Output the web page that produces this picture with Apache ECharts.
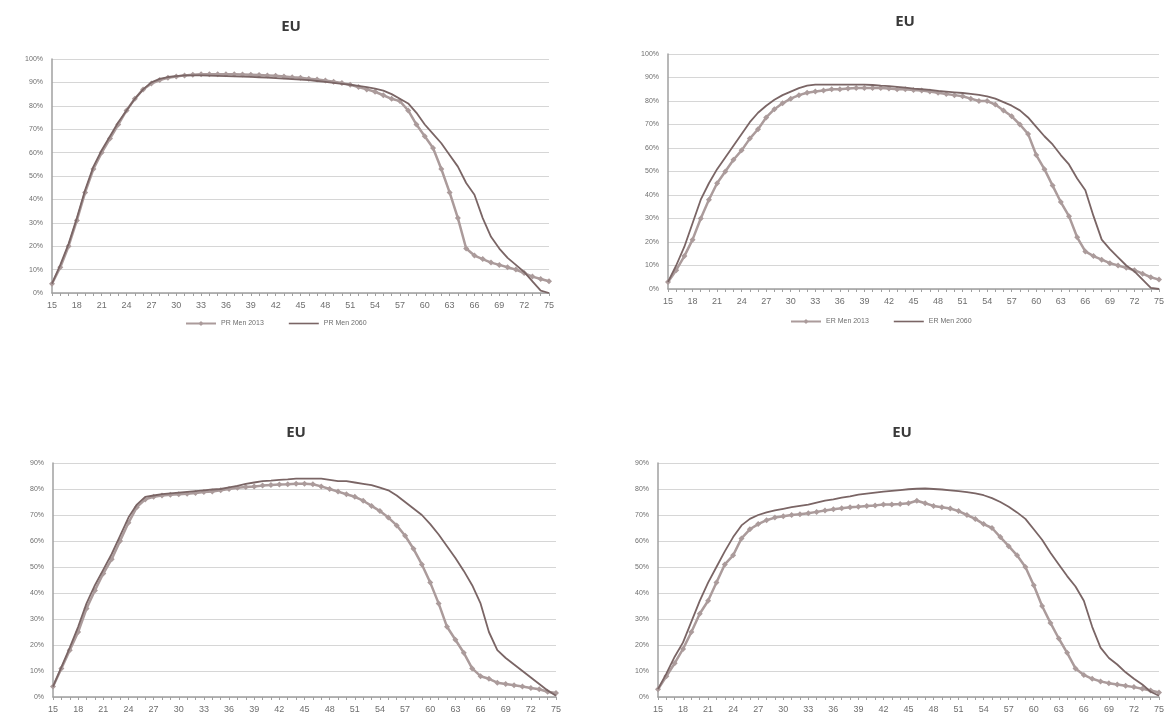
<!DOCTYPE html>
<html>
<head>
<meta charset="utf-8">
<script src="https://cdn.jsdelivr.net/npm/echarts@6/dist/echarts.min.js"></script>
<style>
  html, body { margin: 0; padding: 0; background: #fff; }
  #chart { width: 1167px; height: 726px; }
</style>
</head>
<body>
<div id="chart"></div>
<script>
// ages 15..75
const ages = []
for (let a = 15; a <= 75; a++) ages.push(String(a))

// top left - participation rate, men
const prMen2013 = [4, 11, 20, 31, 43, 53, 60, 66, 72, 78, 83, 87, 89.5, 91, 92, 92.5, 93, 93.3, 93.5, 93.5,
  93.5, 93.5, 93.5, 93.4, 93.3, 93.2, 93, 92.8, 92.5, 92.2, 92, 91.6, 91.2, 90.8, 90.3, 89.7, 89, 88, 87, 86,
  84.5, 83, 82, 78, 72, 67, 62, 53, 43, 32, 19, 16, 14.5, 13, 12, 11, 10, 8.5, 7, 6, 5]
const prMen2060 = [4, 12, 21, 32, 44, 54, 61, 67, 73, 78, 83, 87, 90, 91.5, 92.3, 92.7, 93, 93, 93, 92.9,
  92.8, 92.7, 92.6, 92.5, 92.4, 92.2, 92, 91.8, 91.6, 91.4, 91.2, 91, 90.6, 90.2, 89.8, 89.4, 89, 88.5, 88, 87.3,
  86.5, 85, 83, 81, 77, 72, 68, 64, 59, 54, 47, 42, 32, 24, 19, 15, 12, 9, 5, 1, 0]

// top right - employment rate, men
const erMen2013 = [3, 8, 14, 21, 30, 38, 45, 50, 55, 59, 64, 68, 73, 76.5, 79, 81, 82.5, 83.5, 84, 84.5,
  85, 85, 85.3, 85.5, 85.5, 85.5, 85.5, 85.3, 85, 85, 84.7, 84.5, 84, 83.5, 83, 82.5, 82, 81, 80, 80,
  78.5, 76, 73.5, 70, 66, 57, 51, 44, 37, 31, 22, 16, 14, 12.5, 11, 10, 9, 8, 6.5, 5, 4]
const erMen2060 = [3, 10, 18, 28, 38, 45, 51, 56, 61, 66, 71, 75, 78, 80.5, 82.5, 84, 85.5, 86.5, 87, 87,
  87, 87, 87, 87, 87, 86.8, 86.5, 86.3, 86, 85.7, 85.3, 85, 84.7, 84.3, 84, 83.7, 83.4, 83, 82.6, 82,
  81, 79.5, 78, 76, 73, 69, 65, 61.5, 57, 53, 47, 42, 31, 21, 17, 13.5, 10, 7.5, 4, 0.5, 0]

// bottom left - participation rate, women
const prWomen2013 = [4, 11, 18, 25, 34, 41, 47.5, 53, 60, 67, 73, 76, 77, 77.5, 77.8, 78, 78.2, 78.5, 78.8, 79,
  79.5, 80, 80.5, 80.8, 81, 81.3, 81.5, 81.7, 81.8, 82, 82, 81.8, 81, 80, 79, 78, 77, 75.5, 73.5, 71.5,
  69, 66, 62, 57, 51, 44, 36, 27, 22, 17, 11, 8, 7, 5.5, 5, 4.5, 4, 3.5, 3, 2, 1.5]
const prWomen2060 = [4, 11.5, 19, 27, 36, 43, 49, 55, 62, 69, 74, 77, 77.5, 78, 78.3, 78.6, 78.9, 79.2, 79.5, 79.8,
  80, 80.6, 81.2, 82, 82.5, 83, 83.2, 83.5, 83.7, 84, 84, 84, 84, 83.5, 83, 83, 82.5, 82, 81.5, 80.5,
  79.5, 77.5, 75, 72.5, 70, 66.5, 62.5, 58, 53.5, 48.5, 43, 36, 25, 18, 15, 12.5, 10, 7.5, 5, 2.5, 0.5]

// bottom right - employment rate, women
const erWomen2013 = [3, 8, 13, 18.5, 25, 32, 37, 44, 51, 54.5, 61, 64.5, 66.5, 68, 69, 69.5, 70, 70.3, 70.7, 71.2,
  71.7, 72.2, 72.6, 73, 73.2, 73.5, 73.7, 74, 74, 74.2, 74.5, 75.5, 74.5, 73.5, 73, 72.5, 71.5, 70, 68.5, 66.5,
  65, 61.5, 58, 54.5, 50, 43, 35, 28.5, 22.5, 17, 11, 8.5, 7, 6, 5.3, 4.8, 4.3, 3.8, 3.2, 2.5, 1.7]
const erWomen2060 = [3, 9, 15.5, 21, 29, 37, 44, 50, 56, 61.5, 66, 68.5, 70, 71, 71.8, 72.4, 73, 73.5, 74, 74.8,
  75.5, 76, 76.7, 77.2, 77.8, 78.2, 78.6, 79, 79.3, 79.6, 79.9, 80.1, 80.2, 80, 79.8, 79.5, 79.2, 78.8, 78.3, 77.6,
  76.5, 75, 73.2, 71, 68.5, 64.5, 60.5, 55.5, 51, 46.5, 42.5, 37, 27, 19, 15, 12.5, 9.5, 7, 4.8, 2, 0.5]

const panelTitles = ['EU', 'EU', 'EU', 'EU']
const yMax = [100, 100, 90, 90]

const grids = [
  { left: 52, width: 497, top: 59, height: 234 },
  { left: 668, width: 494, top: 54, height: 235 },
  { left: 53, width: 503, top: 463, height: 234 },
  { left: 658, width: 504, top: 463, height: 234 }
]
const titlePos = [[286, 14], [900, 9], [291, 420], [897, 420]]

const c2013 = '#ab9b9b'
const c2060 = '#7a6565'
const gridColor = '#d6d6d6'
const axisColor = '#a0a0a0'
const labelColor = '#6e6e6e'

const chart = echarts.init(document.getElementById('chart'))

const xAxes = grids.map((g, i) => ({
  type: 'category', gridIndex: i, data: ages, boundaryGap: false,
  axisLine: { lineStyle: { color: axisColor, width: 1.5 } },
  axisTick: { interval: 0, length: 3, lineStyle: { color: axisColor } },
  axisLabel: { interval: 2, color: labelColor, fontSize: 9, fontFamily: 'Liberation Sans Narrow, Liberation Sans', margin: 8 },
  splitLine: { show: false }
}))
const yAxes = grids.map((g, i) => ({
  type: 'value', gridIndex: i, min: 0, max: yMax[i], interval: 10,
  axisLine: { show: true, lineStyle: { color: axisColor, width: 1.5 } },
  axisTick: { show: false },
  axisLabel: { formatter: '{value}%', color: labelColor, fontSize: 7, fontFamily: 'Liberation Sans', margin: 9 },
  splitLine: { lineStyle: { color: gridColor, width: 1 } }
}))

function mkSeries(name, data, idx, old) {
  return {
    name, type: 'line', data, xAxisIndex: idx, yAxisIndex: idx,
    symbol: old ? 'diamond' : 'none',
    symbolSize: 6,
    showAllSymbol: true,
    lineStyle: { color: old ? c2013 : c2060, width: old ? 2.5 : 1.8 },
    itemStyle: { color: old ? c2013 : c2060 },
    z: old ? 3 : 4
  }
}

const legendText = { fontSize: 7, color: labelColor, fontFamily: 'Liberation Sans' }
const lineIcon = 'path://M0,0 L30,0 L30,1.6 L0,1.6 Z'

chart.setOption({
  backgroundColor: '#fff',
  animation: false,
  title: panelTitles.map((t, i) => ({
    text: t, left: titlePos[i][0], top: titlePos[i][1], textAlign: 'center',
    textStyle: { fontSize: 15, fontWeight: 'bold', color: '#3a3a3a', fontFamily: 'Open Sans' }
  })),
  legend: [
    { data: ['PR Men 2013', { name: 'PR Men 2060', icon: lineIcon }], left: 185, top: 320, padding: 0,
      itemGap: 25, itemWidth: 30, itemHeight: 6, textStyle: legendText },
    { data: ['ER Men 2013', { name: 'ER Men 2060', icon: lineIcon }], left: 790, top: 318, padding: 0,
      itemGap: 25, itemWidth: 30, itemHeight: 6, textStyle: legendText }
  ],
  grid: grids,
  xAxis: xAxes,
  yAxis: yAxes,
  series: [
    mkSeries('PR Men 2013', prMen2013, 0, true),
    mkSeries('PR Men 2060', prMen2060, 0, false),
    mkSeries('ER Men 2013', erMen2013, 1, true),
    mkSeries('ER Men 2060', erMen2060, 1, false),
    mkSeries('PR Women 2013', prWomen2013, 2, true),
    mkSeries('PR Women 2060', prWomen2060, 2, false),
    mkSeries('ER Women 2013', erWomen2013, 3, true),
    mkSeries('ER Women 2060', erWomen2060, 3, false)
  ]
})
</script>
</body>
</html>
